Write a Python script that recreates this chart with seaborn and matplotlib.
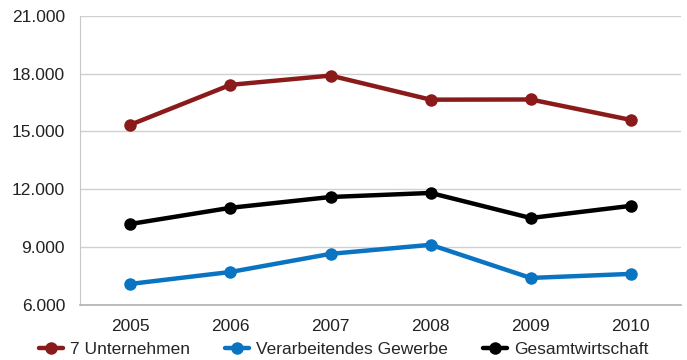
import pandas as pd
import matplotlib.pyplot as plt
import matplotlib.ticker as mticker
import seaborn as sns

years = ["2005", "2006", "2007", "2008", "2009", "2010"]
unternehmen = [15350, 17420, 17900, 16650, 16660, 15600]
verarbeitend = [7090, 7710, 8650, 9120, 7400, 7610]
gesamt = [10200, 11040, 11600, 11810, 10510, 11140]
series_names = ["7 Unternehmen", "Verarbeitendes Gewerbe", "Gesamtwirtschaft"]
colors = ["#8B1A1A", "#0A74C2", "#000000"]

df = pd.DataFrame({
    "Jahr": years * 3,
    "Wert": unternehmen + verarbeitend + gesamt,
    "Reihe": [series_names[0]] * 6 + [series_names[1]] * 6 + [series_names[2]] * 6,
})

sns.set_style("white")
plt.rcParams['font.family'] = ['Liberation Sans', 'DejaVu Sans']

fig, ax = plt.subplots(figsize=(6.87, 3.6), dpi=100)
fig.subplots_adjust(left=0.117, right=0.991, top=0.956, bottom=0.153)

sns.lineplot(data=df, x="Jahr", y="Wert", hue="Reihe", palette=colors,
             marker="o", markersize=9, markeredgewidth=0, linewidth=3.2,
             sort=False, ax=ax, legend=True)

ax.set_ylim(6000, 21000)
ax.set_yticks(range(6000, 21001, 3000))
ax.yaxis.set_major_formatter(mticker.FuncFormatter(lambda v, p: f"{int(v):,}".replace(",", ".")))
ax.set_xlim(-0.5, 5.5)
ax.grid(axis="y", color="#d0d0d0", linewidth=1)
ax.set_axisbelow(True)
ax.set_xlabel("")
ax.set_ylabel("")

for s in ["top", "right"]:
    ax.spines[s].set_visible(False)
ax.spines["left"].set_color("#c8c8c8")
ax.spines["bottom"].set_color("#b0b0b0")
ax.spines["bottom"].set_linewidth(1.2)

ax.tick_params(axis="both", labelsize=12.5, colors="#222222")
ax.tick_params(axis="x", length=0, pad=10)
ax.tick_params(axis="y", length=5, color="#c8c8c8", pad=6)
ax.set_xticks([i + 0.5 for i in range(-1, 6)], minor=True)
ax.tick_params(axis="x", which="minor", length=5, color="#c8c8c8")

handles, labels = ax.get_legend_handles_labels()
ax.legend_.remove()
fig.legend(handles, labels, loc="lower center", bbox_to_anchor=(0.5, -0.035), ncol=3,
           frameon=False, fontsize=12.5, handlelength=1.4, handletextpad=0.4,
           columnspacing=2.0)

fig.savefig("out.png", dpi=100)
